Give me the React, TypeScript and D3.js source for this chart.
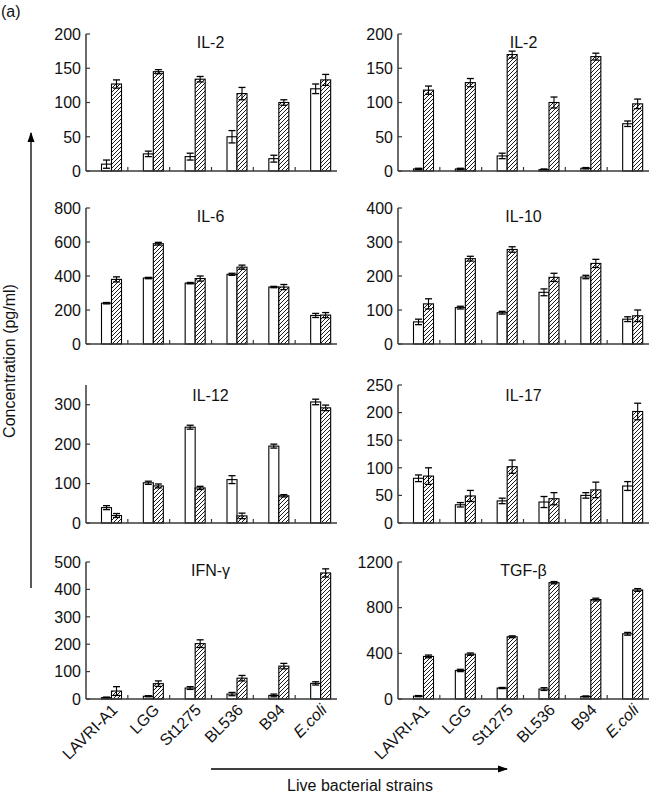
import React from "react";
import * as d3 from "d3";

const strains = ["LAVRI-A1", "LGG", "St1275", "BL536", "B94", "E.coli"];

// IL-2 (left)
const il2aOpen = [10, 25, 21, 50, 18, 120];
const il2aOpenErr = [6, 4, 5, 9, 5, 7];
const il2aHatch = [127, 145, 134, 113, 100, 133];
const il2aHatchErr = [6, 3, 4, 9, 4, 8];
// IL-2 (right)
const il2bOpen = [3, 3, 22, 2, 4, 69];
const il2bOpenErr = [1, 1, 4, 1, 1, 4];
const il2bHatch = [118, 129, 170, 100, 167, 98];
const il2bHatchErr = [6, 6, 5, 8, 5, 7];
// IL-6
const il6Open = [240, 388, 358, 410, 335, 168];
const il6OpenErr = [4, 4, 4, 6, 4, 12];
const il6Hatch = [380, 590, 385, 452, 335, 170];
const il6HatchErr = [15, 8, 15, 12, 15, 15];
// IL-10
const il10Open = [65, 107, 92, 152, 197, 73];
const il10OpenErr = [8, 4, 4, 10, 5, 7];
const il10Hatch = [118, 251, 278, 196, 237, 83];
const il10HatchErr = [15, 7, 8, 12, 12, 17];
// IL-12
const il12Open = [39, 102, 243, 110, 195, 307];
const il12OpenErr = [5, 4, 5, 10, 5, 7];
const il12Hatch = [19, 94, 89, 18, 69, 292];
const il12HatchErr = [5, 5, 4, 7, 3, 7];
// IL-17
const il17Open = [81, 33, 40, 38, 50, 67];
const il17OpenErr = [6, 4, 5, 10, 5, 8];
const il17Hatch = [85, 49, 102, 44, 60, 202];
const il17HatchErr = [15, 10, 12, 11, 14, 15];
// IFN-γ
const ifnOpen = [5, 10, 40, 18, 13, 57];
const ifnOpenErr = [2, 2, 5, 6, 5, 6];
const ifnHatch = [29, 56, 202, 76, 120, 460];
const ifnHatchErr = [16, 10, 14, 10, 10, 15];
// TGF-β
const tgfOpen = [25, 250, 96, 87, 22, 571];
const tgfOpenErr = [5, 10, 5, 12, 5, 12];
const tgfHatch = [373, 393, 545, 1019, 871, 955];
const tgfHatchErr = [12, 10, 8, 10, 12, 12];

const titles = ["IL-2", "IL-2", "IL-6", "IL-10", "IL-12", "IL-17", "IFN-γ", "TGF-β"];
const yMaxes = [200, 200, 800, 400, 350, 250, 500, 1200];
const yTickLists = [
  [0, 50, 100, 150, 200],
  [0, 50, 100, 150, 200],
  [0, 200, 400, 600, 800],
  [0, 100, 200, 300, 400],
  [0, 100, 200, 300],
  [0, 50, 100, 150, 200, 250],
  [0, 100, 200, 300, 400, 500],
  [0, 400, 800, 1200],
];
const openSeries = [il2aOpen, il2bOpen, il6Open, il10Open, il12Open, il17Open, ifnOpen, tgfOpen];
const openErrSeries = [il2aOpenErr, il2bOpenErr, il6OpenErr, il10OpenErr, il12OpenErr, il17OpenErr, ifnOpenErr, tgfOpenErr];
const hatchSeries = [il2aHatch, il2bHatch, il6Hatch, il10Hatch, il12Hatch, il17Hatch, ifnHatch, tgfHatch];
const hatchErrSeries = [il2aHatchErr, il2bHatchErr, il6HatchErr, il10HatchErr, il12HatchErr, il17HatchErr, ifnHatchErr, tgfHatchErr];

const W = 650;
const H = 796;
const FONT = "'Liberation Sans', Arial, Helvetica, sans-serif";
const colX = [86, 398];
const panelW = 251;
const rowTop = [34, 208, 385, 562];
const rowZero = [171, 344, 523, 699];
const titleOffset = [14, 14, 16, 14];
const AXIS = "#3a3a3a";

function Panel({ idx }: { idx: number }) {
  const col = idx % 2;
  const row = Math.floor(idx / 2);
  const x0 = colX[col];
  const x = d3.scaleBand<string>().domain(strains).range([x0, x0 + panelW]).paddingInner(0).paddingOuter(0);
  const y = d3.scaleLinear().domain([0, yMaxes[idx]]).range([rowZero[row], rowTop[row]]);
  const bw = 10;
  const off = 15.5;
  const capW = 7;
  const bars: JSX.Element[] = [];
  strains.forEach((s, i) => {
    const gx = x(s)!;
    const pairs = [
      { v: openSeries[idx][i], e: openErrSeries[idx][i], xs: gx + off, fill: "white" },
      { v: hatchSeries[idx][i], e: hatchErrSeries[idx][i], xs: gx + off + bw, fill: "url(#hatch)" },
    ];
    pairs.forEach((p, k) => {
      const top = y(p.v);
      const cx = p.xs + bw / 2;
      bars.push(
        <g key={`${i}-${k}`}>
          <rect x={p.xs} y={top} width={bw} height={y(0) - top} fill={p.fill} stroke="#000" strokeWidth={1.1} />
          <line x1={cx} x2={cx} y1={y(Math.max(0, p.v - p.e))} y2={y(p.v + p.e)} stroke="#000" strokeWidth={1.1} />
          <line x1={cx - capW / 2} x2={cx + capW / 2} y1={y(p.v + p.e)} y2={y(p.v + p.e)} stroke="#000" strokeWidth={1.3} />
          <line x1={cx - capW / 2} x2={cx + capW / 2} y1={y(Math.max(0, p.v - p.e))} y2={y(Math.max(0, p.v - p.e))} stroke="#000" strokeWidth={1.3} />
        </g>
      );
    });
  });
  return (
    <g>
      {bars}
      <line x1={x0} x2={x0} y1={y(0)} y2={y(yMaxes[idx])} stroke={AXIS} strokeWidth={1.5} />
      <line x1={x0} x2={x0 + panelW} y1={y(0)} y2={y(0)} stroke={AXIS} strokeWidth={1.5} />
      {yTickLists[idx].map((t) => (
        <g key={t}>
          <line x1={x0} x2={x0 + 4} y1={y(t)} y2={y(t)} stroke={AXIS} strokeWidth={1.2} />
          <text x={x0 - 5} y={y(t)} dy="0.36em" textAnchor="end" fontSize={16} fontFamily={FONT} fill="#111">
            {t}
          </text>
        </g>
      ))}
      {strains.slice(1).map((s) => (
        <line key={s} x1={x(s)!} x2={x(s)!} y1={y(0)} y2={y(0) - 4} stroke={AXIS} strokeWidth={1.2} />
      ))}
      <text
        x={x0 + panelW / 2 - (col === 0 ? 1 : 0)}
        y={rowTop[row] + titleOffset[row]}
        textAnchor="middle"
        fontSize={16}
        fontFamily={FONT}
        fill="#111"
      >
        {titles[idx]}
      </text>
      {row === 3 &&
        strains.map((s) => {
          const ax = x(s)! + off + bw + 7;
          const ay = y(0) + 12;
          return (
            <text
              key={s}
              transform={`translate(${ax},${ay}) rotate(-45)`}
              textAnchor="end"
              fontSize={16}
              fontFamily={FONT}
              fontStyle={s === "E.coli" ? "italic" : "normal"}
              fill="#111"
            >
              {s}
            </text>
          );
        })}
    </g>
  );
}

export default function App() {
  return (
    <svg
      width={W}
      height={H}
      viewBox={`0 0 ${W} ${H}`}
      style={{ position: "absolute", left: 0, top: 0, background: "white", display: "block" }}
    >
      <defs>
        <pattern id="hatch" patternUnits="userSpaceOnUse" width={4} height={4}>
          <rect width={4} height={4} fill="white" />
          <path d="M-1,1 l2,-2 M0,4 l4,-4 M3,5 l2,-2" stroke="#000" strokeWidth={0.9} />
        </pattern>
        <marker id="arrow" viewBox="0 0 10 10" refX={9} refY={5} markerWidth={8} markerHeight={8} orient="auto-start-reverse">
          <path d="M0,1.5 L10,5 L0,8.5 Z" fill="#000" />
        </marker>
      </defs>
      <rect width={W} height={H} fill="white" />
      <text x={1} y={17} fontSize={16} fontFamily={FONT} fill="#111">
        (a)
      </text>
      {d3.range(8).map((i) => (
        <Panel key={i} idx={i} />
      ))}
      <text transform="translate(15,361) rotate(-90)" textAnchor="middle" fontSize={16} fontFamily={FONT} fill="#111">
        Concentration (pg/ml)
      </text>
      <line x1={31} x2={31} y1={588} y2={133} stroke="#000" strokeWidth={1.3} markerEnd="url(#arrow)" />
      <line x1={211} x2={507} y1={769} y2={769} stroke="#000" strokeWidth={1.3} markerEnd="url(#arrow)" />
      <text x={360} y={791} textAnchor="middle" fontSize={16} fontFamily={FONT} fill="#111">
        Live bacterial strains
      </text>
    </svg>
  );
}
